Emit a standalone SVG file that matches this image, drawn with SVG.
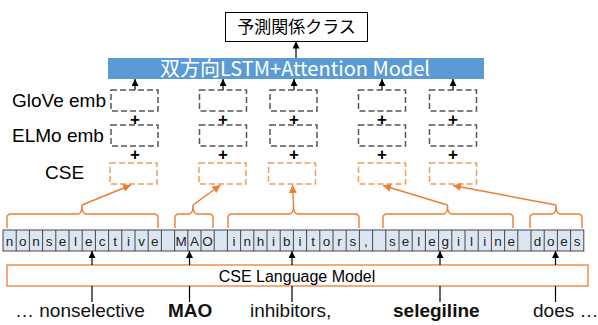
<svg xmlns="http://www.w3.org/2000/svg" width="598" height="325" viewBox="0 0 598 325">
<style>
.lbl{font-family:"Liberation Sans",Arial,sans-serif;font-size:19px;fill:#000}
.ch{font-family:"Liberation Sans",Arial,sans-serif;font-size:13.5px;fill:#222;text-anchor:middle}
.gbox{fill:none;stroke:#555;stroke-width:1.5;stroke-dasharray:6 3}
.obox{fill:none;stroke:#F29A5E;stroke-width:1.5;stroke-dasharray:6 3}
.blk{fill:none;stroke:#000;stroke-width:1.2}
.org{fill:none;stroke:#ED7D31;stroke-width:1.4}
.plus{font-family:"Liberation Sans",Arial,sans-serif;font-size:17px;font-weight:bold;text-anchor:middle;fill:#000}
.word{font-family:"Liberation Sans",Arial,sans-serif;font-size:19px;fill:#111}
</style>
<defs>
<marker id="ab" viewBox="0 0 10 10" refX="10" refY="5" markerWidth="7" markerHeight="7" markerUnits="userSpaceOnUse" orient="auto"><path d="M0,0 L10,5 L0,10 z" fill="#000"/></marker>
<marker id="ao" viewBox="0 0 10 10" refX="10" refY="5" markerWidth="8" markerHeight="8" markerUnits="userSpaceOnUse" orient="auto"><path d="M0,0 L10,5 L0,10 z" fill="#ED7D31"/></marker>
</defs>

<g id="output-class">
<rect x="225.5" y="12.5" width="142" height="29" fill="#fff" stroke="#000" stroke-width="1"/>
<text x="296.5" y="33" text-anchor="middle" font-family="'Noto Sans CJK JP',sans-serif" font-size="17">予測関係クラス</text>
</g>

<g id="bilstm">
<rect x="108" y="58" width="376" height="21" fill="#5B9BD5"/>
<text x="295" y="76" text-anchor="middle" font-family="'Noto Sans CJK JP',sans-serif" font-size="20" fill="#fff">双方向LSTM+Attention Model</text>
</g>

<g id="labels">
<text class="lbl" x="12" y="107">GloVe emb</text>
<text class="lbl" x="12" y="142">ELMo emb</text>
<text class="lbl" x="45" y="179">CSE</text>
</g>

<g id="glove">
<rect class="gbox" x="111" y="90" width="47" height="21"/>
<rect class="gbox" x="199.5" y="90" width="47" height="21"/>
<rect class="gbox" x="270" y="90" width="47" height="21"/>
<rect class="gbox" x="358.5" y="90" width="47" height="21"/>
<rect class="gbox" x="429.5" y="90" width="47" height="21"/>
</g>
<g id="elmo">
<rect class="gbox" x="111" y="125" width="47" height="21"/>
<rect class="gbox" x="199.5" y="125" width="47" height="21"/>
<rect class="gbox" x="270" y="125" width="47" height="21"/>
<rect class="gbox" x="358.5" y="125" width="47" height="21"/>
<rect class="gbox" x="429.5" y="125" width="47" height="21"/>
</g>
<g id="cse">
<rect class="obox" x="110" y="163" width="47" height="21"/>
<rect class="obox" x="199" y="163" width="47" height="21"/>
<rect class="obox" x="268.5" y="163" width="47" height="21"/>
<rect class="obox" x="358.5" y="163" width="47" height="21"/>
<rect class="obox" x="429.5" y="163" width="47" height="21"/>
</g>
<g id="plus">
<text class="plus" x="135" y="125">+</text>
<text class="plus" x="223" y="125">+</text>
<text class="plus" x="294" y="125">+</text>
<text class="plus" x="382" y="125">+</text>
<text class="plus" x="453" y="125">+</text>
<text class="plus" x="135" y="160">+</text>
<text class="plus" x="223" y="160">+</text>
<text class="plus" x="294" y="160">+</text>
<text class="plus" x="382" y="160">+</text>
<text class="plus" x="453" y="160">+</text>
</g>

<g id="char-strip">
<rect x="3" y="230" width="580.8" height="21" fill="#DCE6F2" stroke="#444" stroke-width="1"/>
<path d="M16.2,230V251M29.4,230V251M42.6,230V251M55.8,230V251M69,230V251M82.2,230V251M95.4,230V251M108.6,230V251M121.8,230V251M135,230V251M148.2,230V251M161.4,230V251M174.6,230V251M187.8,230V251M201,230V251M214.2,230V251M227.4,230V251M240.6,230V251M253.8,230V251M267,230V251M280.2,230V251M293.4,230V251M306.6,230V251M319.8,230V251M333,230V251M346.2,230V251M359.4,230V251M372.6,230V251M385.8,230V251M399,230V251M412.2,230V251M425.4,230V251M438.6,230V251M451.8,230V251M465,230V251M478.2,230V251M491.4,230V251M504.6,230V251M517.8,230V251M531,230V251M544.2,230V251M557.4,230V251M570.6,230V251" stroke="#444" stroke-width="1" fill="none"/>
<text class="ch" x="9.6" y="246">n</text>
<text class="ch" x="22.8" y="246">o</text>
<text class="ch" x="36" y="246">n</text>
<text class="ch" x="49.2" y="246">s</text>
<text class="ch" x="62.4" y="246">e</text>
<text class="ch" x="75.6" y="246">l</text>
<text class="ch" x="88.8" y="246">e</text>
<text class="ch" x="102" y="246">c</text>
<text class="ch" x="115.2" y="246">t</text>
<text class="ch" x="128.4" y="246">i</text>
<text class="ch" x="141.6" y="246">v</text>
<text class="ch" x="154.8" y="246">e</text>
<text class="ch" x="181.2" y="246">M</text>
<text class="ch" x="194.4" y="246">A</text>
<text class="ch" x="207.6" y="246">O</text>
<text class="ch" x="234" y="246">i</text>
<text class="ch" x="247.2" y="246">n</text>
<text class="ch" x="260.4" y="246">h</text>
<text class="ch" x="273.6" y="246">i</text>
<text class="ch" x="286.8" y="246">b</text>
<text class="ch" x="300" y="246">i</text>
<text class="ch" x="313.2" y="246">t</text>
<text class="ch" x="326.4" y="246">o</text>
<text class="ch" x="339.6" y="246">r</text>
<text class="ch" x="352.8" y="246">s</text>
<text class="ch" x="366" y="246">,</text>
<text class="ch" x="392.4" y="246">s</text>
<text class="ch" x="405.6" y="246">e</text>
<text class="ch" x="418.8" y="246">l</text>
<text class="ch" x="432" y="246">e</text>
<text class="ch" x="445.2" y="246">g</text>
<text class="ch" x="458.4" y="246">i</text>
<text class="ch" x="471.6" y="246">l</text>
<text class="ch" x="484.8" y="246">i</text>
<text class="ch" x="498" y="246">n</text>
<text class="ch" x="511.2" y="246">e</text>
<text class="ch" x="537.6" y="246">d</text>
<text class="ch" x="550.8" y="246">o</text>
<text class="ch" x="564" y="246">e</text>
<text class="ch" x="577.2" y="246">s</text>
</g>

<g id="cse-lm">
<rect x="7" y="265" width="581" height="21" fill="#fff" stroke="#ED7D31" stroke-width="1.3"/>
<text x="297" y="281.5" text-anchor="middle" font-family="'Liberation Sans',Arial,sans-serif" font-size="16">CSE Language Model</text>
</g>

<g id="words">
<text class="word" x="15" y="317">… nonselective</text>
<text class="word" x="168" y="317" font-weight="bold">MAO</text>
<text class="word" x="250" y="317">inhibitors,</text>
<text class="word" x="393" y="317" font-weight="bold">selegiline</text>
<text class="word" x="533" y="317">does …</text>
</g>

<g id="connectors">
<path class="org" d="M7,228 V218 Q7,214 11,214 H78 Q82,214 82,205 Q82,214 86,214 H154 Q158,214 158,218 V228"/>
<path class="org" d="M175,228 V218 Q175,214 179,214 H189 Q193,214 193,205 Q193,214 197,214 H209 Q213,214 213,218 V228"/>
<path class="org" d="M228,228 V218 Q228,214 232,214 H289.5 Q293.5,214 293.5,205 Q293.5,214 297.5,214 H355 Q359,214 359,218 V228"/>
<path class="org" d="M383,228 V218 Q383,214 387,214 H443.5 Q447.5,214 447.5,205 Q447.5,214 451.5,214 H509 Q513,214 513,218 V228"/>
<path class="org" d="M530,228 V218 Q530,214 534,214 H552 Q556,214 556,205 Q556,214 560,214 H578 Q582,214 582,218 V228"/>
<line class="org" x1="82" y1="205" x2="131" y2="185" marker-end="url(#ao)"/>
<line class="org" x1="193" y1="205" x2="220.5" y2="185" marker-end="url(#ao)"/>
<line class="org" x1="293.5" y1="205" x2="292.5" y2="185" marker-end="url(#ao)"/>
<line class="org" x1="447.5" y1="205" x2="383" y2="185.5" marker-end="url(#ao)"/>
<line class="org" x1="556" y1="205" x2="453" y2="185.5" marker-end="url(#ao)"/>
<line class="blk" x1="135" y1="90" x2="135" y2="79" marker-end="url(#ab)"/>
<line class="blk" x1="223" y1="90" x2="223" y2="79" marker-end="url(#ab)"/>
<line class="blk" x1="294" y1="90" x2="294" y2="79" marker-end="url(#ab)"/>
<line class="blk" x1="382" y1="90" x2="382" y2="79" marker-end="url(#ab)"/>
<line class="blk" x1="453" y1="90" x2="453" y2="79" marker-end="url(#ab)"/>
<line class="blk" x1="296" y1="58" x2="296" y2="41.5" marker-end="url(#ab)"/>
<line class="blk" x1="92" y1="265" x2="92" y2="251" marker-end="url(#ab)"/>
<line class="blk" x1="189.5" y1="265" x2="189.5" y2="251" marker-end="url(#ab)"/>
<line class="blk" x1="292" y1="265" x2="292" y2="251" marker-end="url(#ab)"/>
<line class="blk" x1="440" y1="265" x2="440" y2="251" marker-end="url(#ab)"/>
<line class="blk" x1="555.5" y1="265" x2="555.5" y2="251" marker-end="url(#ab)"/>
<line class="blk" x1="92" y1="286" x2="92" y2="302"/>
<line class="blk" x1="189.5" y1="286" x2="189.5" y2="302"/>
<line class="blk" x1="292" y1="286" x2="292" y2="302"/>
<line class="blk" x1="440" y1="286" x2="440" y2="302"/>
<line class="blk" x1="555.5" y1="286" x2="555.5" y2="302"/>
</g>
</svg>
